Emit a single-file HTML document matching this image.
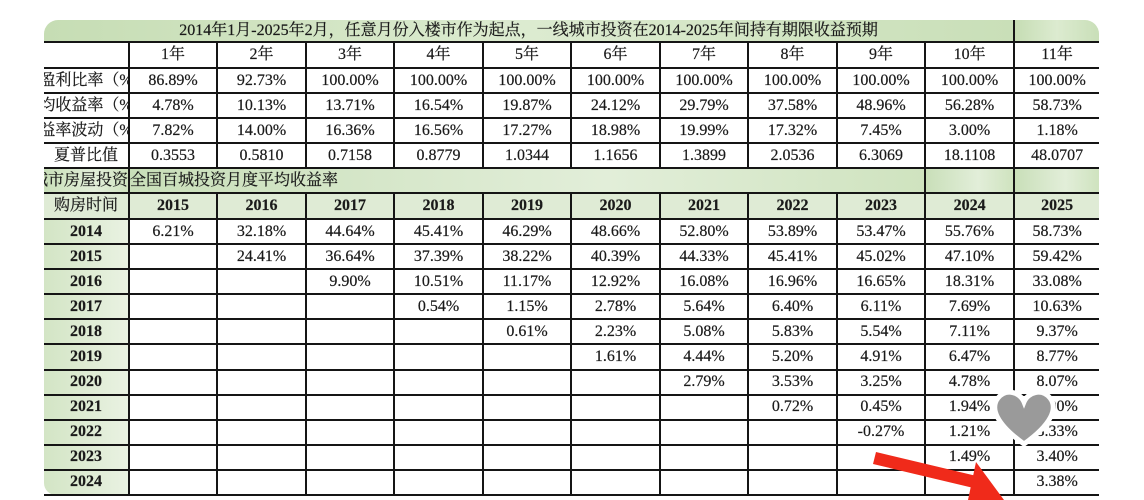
<!DOCTYPE html>
<html><head><meta charset="utf-8"><style>
html,body{margin:0;padding:0;background:#fff;width:1144px;height:500px;overflow:hidden}
table{position:absolute;left:44px;top:20px;border-collapse:collapse;table-layout:fixed;width:1055px;font-family:"Liberation Serif","Noto Serif CJK SC",serif;font-size:16px;color:#1a1a1a}
td{border:2px solid #151515;border-top:0;padding:0;text-align:center;height:23px;line-height:20px;white-space:nowrap;overflow:hidden;border-left-width:2px;border-right-width:2px;-webkit-text-stroke:0.2px #1a1a1a}
td:first-child{border-left:0}
tr td:last-child{border-right:0}
.t td{background:linear-gradient(90deg,#c6ddb4,#dcebd0 50%,#c9dfb8);height:21px}
.f{display:flex;justify-content:center;overflow:hidden;white-space:nowrap}
.s td{background:linear-gradient(90deg,#c9dfb9,#e2eed9 60%,#cfe3bf);height:23px}
.h td{background:#dfebd5;font-weight:bold;height:24px}
.d td:first-child{background:linear-gradient(90deg,#d3e5c5,#e9f2e2);font-weight:bold}
.d td{height:23.1px}
</style></head><body>
<table>
<colgroup><col style="width:85px"><col style="width:88px"><col style="width:89px"><col style="width:88px"><col style="width:89px"><col style="width:88px"><col style="width:89px"><col style="width:88px"><col style="width:89px"><col style="width:88px"><col style="width:89px"><col style="width:85px"></colgroup>
<tr class="t"><td colspan="11" style="border-radius:14px 0 0 0;border-right:2px solid #151515">2014年1月-2025年2月，任意月份入楼市作为起点，一线城市投资在2014-2025年间持有期限收益预期</td><td style="border-radius:0 14px 0 0"></td></tr>
<tr><td style="height:24px"></td><td>1年</td><td>2年</td><td>3年</td><td>4年</td><td>5年</td><td>6年</td><td>7年</td><td>8年</td><td>9年</td><td>10年</td><td>11年</td></tr>
<tr><td><div class="f">资盈利比率（%）</div></td><td>86.89%</td><td>92.73%</td><td>100.00%</td><td>100.00%</td><td>100.00%</td><td>100.00%</td><td>100.00%</td><td>100.00%</td><td>100.00%</td><td>100.00%</td><td>100.00%</td></tr>
<tr><td><div class="f">平均收益率（%）</div></td><td>4.78%</td><td>10.13%</td><td>13.71%</td><td>16.54%</td><td>19.87%</td><td>24.12%</td><td>29.79%</td><td>37.58%</td><td>48.96%</td><td>56.28%</td><td>58.73%</td></tr>
<tr><td><div class="f">收益率波动（%）</div></td><td>7.82%</td><td>14.00%</td><td>16.36%</td><td>16.56%</td><td>17.27%</td><td>18.98%</td><td>19.99%</td><td>17.32%</td><td>7.45%</td><td>3.00%</td><td>1.18%</td></tr>
<tr><td>夏普比值</td><td>0.3553</td><td>0.5810</td><td>0.7158</td><td>0.8779</td><td>1.0344</td><td>1.1656</td><td>1.3899</td><td>2.0536</td><td>6.3069</td><td>18.1108</td><td>48.0707</td></tr>
<tr class="s"><td><div class="f" style="justify-content:flex-end">全国城市房屋投资</div></td><td colspan="9" style="text-align:left">全国百城投资月度平均收益率</td><td></td><td></td></tr>
<tr class="h"><td style="font-weight:normal">购房时间</td><td>2015</td><td>2016</td><td>2017</td><td>2018</td><td>2019</td><td>2020</td><td>2021</td><td>2022</td><td>2023</td><td>2024</td><td>2025</td></tr>
<tr class="d"><td>2014</td><td>6.21%</td><td>32.18%</td><td>44.64%</td><td>45.41%</td><td>46.29%</td><td>48.66%</td><td>52.80%</td><td>53.89%</td><td>53.47%</td><td>55.76%</td><td>58.73%</td></tr>
<tr class="d"><td>2015</td><td></td><td>24.41%</td><td>36.64%</td><td>37.39%</td><td>38.22%</td><td>40.39%</td><td>44.33%</td><td>45.41%</td><td>45.02%</td><td>47.10%</td><td>59.42%</td></tr>
<tr class="d"><td>2016</td><td></td><td></td><td>9.90%</td><td>10.51%</td><td>11.17%</td><td>12.92%</td><td>16.08%</td><td>16.96%</td><td>16.65%</td><td>18.31%</td><td>33.08%</td></tr>
<tr class="d"><td>2017</td><td></td><td></td><td></td><td>0.54%</td><td>1.15%</td><td>2.78%</td><td>5.64%</td><td>6.40%</td><td>6.11%</td><td>7.69%</td><td>10.63%</td></tr>
<tr class="d"><td>2018</td><td></td><td></td><td></td><td></td><td>0.61%</td><td>2.23%</td><td>5.08%</td><td>5.83%</td><td>5.54%</td><td>7.11%</td><td>9.37%</td></tr>
<tr class="d"><td>2019</td><td></td><td></td><td></td><td></td><td></td><td>1.61%</td><td>4.44%</td><td>5.20%</td><td>4.91%</td><td>6.47%</td><td>8.77%</td></tr>
<tr class="d"><td>2020</td><td></td><td></td><td></td><td></td><td></td><td></td><td>2.79%</td><td>3.53%</td><td>3.25%</td><td>4.78%</td><td>8.07%</td></tr>
<tr class="d"><td>2021</td><td></td><td></td><td></td><td></td><td></td><td></td><td></td><td>0.72%</td><td>0.45%</td><td>1.94%</td><td>5.00%</td></tr>
<tr class="d"><td>2022</td><td></td><td></td><td></td><td></td><td></td><td></td><td></td><td></td><td>-0.27%</td><td>1.21%</td><td>3.33%</td></tr>
<tr class="d"><td>2023</td><td></td><td></td><td></td><td></td><td></td><td></td><td></td><td></td><td></td><td>1.49%</td><td>3.40%</td></tr>
<tr class="d"><td style="border-radius:0 0 0 12px">2024</td><td></td><td></td><td></td><td></td><td></td><td></td><td></td><td></td><td></td><td></td><td>3.38%</td></tr>
</table>
<svg style="position:absolute;left:0;top:0" width="1144" height="500">
<path d="M1024 444 C996 424 990 408 998 398 C1006 388 1020 392 1024 402 C1028 392 1042 388 1050 398 C1058 408 1052 424 1024 444Z" fill="#9a9a9a" stroke="#fff" stroke-width="5"/>
<path d="M876 452 L985 478 L982 490 L873 464Z" fill="#f02a1a"/>
<path d="M976 462 L1004 500 L968 500Z" fill="#f02a1a"/>
</svg>
</body></html>
